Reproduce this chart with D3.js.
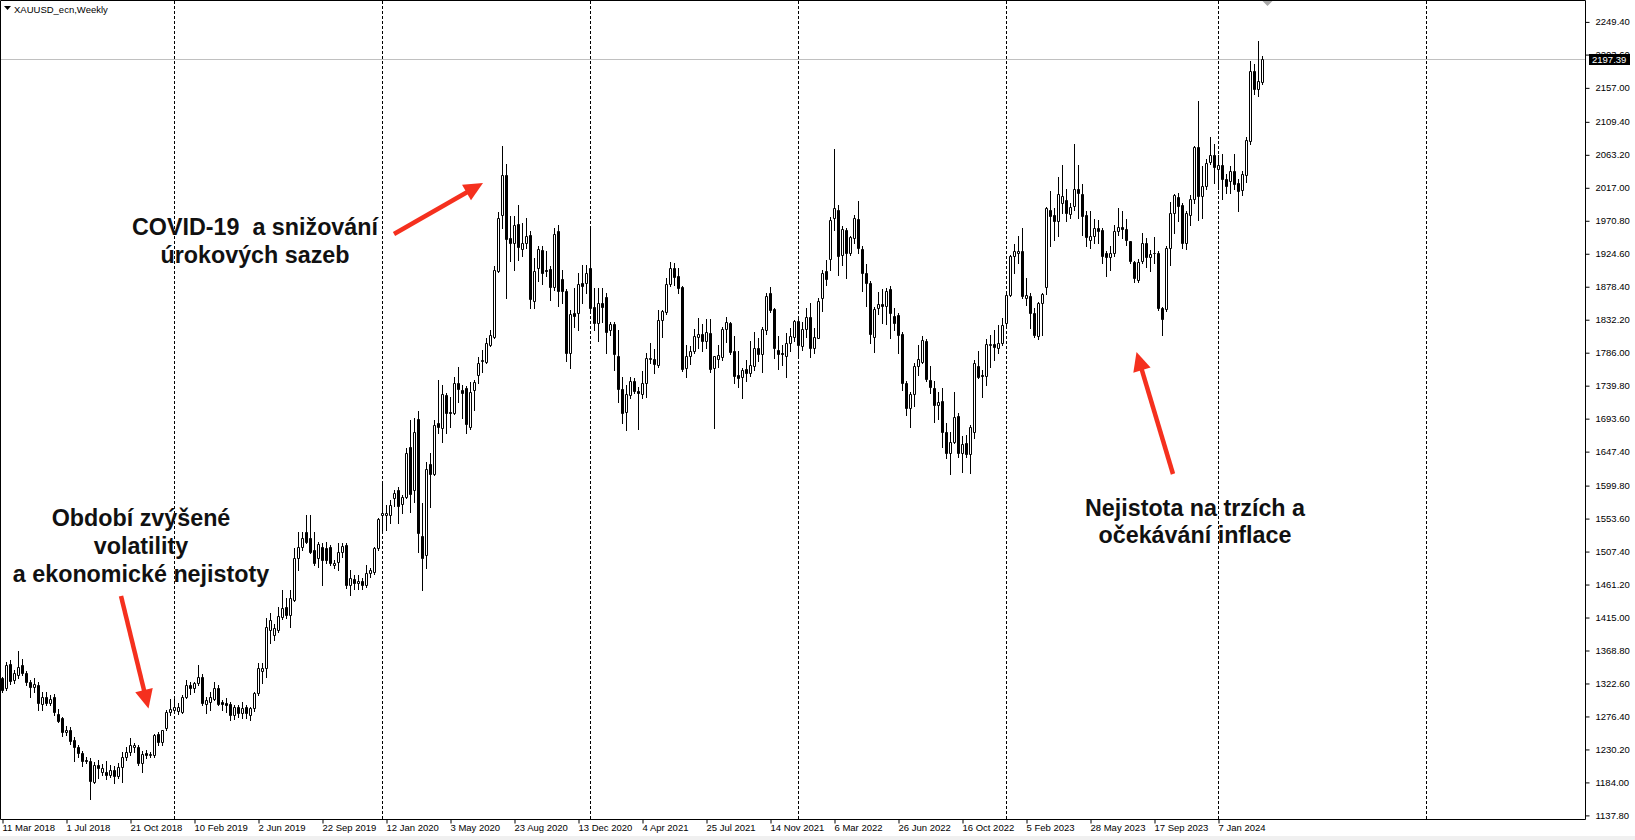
<!DOCTYPE html>
<html><head><meta charset="utf-8">
<script src="https://cdn.jsdelivr.net/npm/d3@7"></script>
<style>html,body{margin:0;padding:0;background:#fff;overflow:hidden}svg{display:block}</style>
</head><body>
<svg id="c" width="1635" height="840"></svg>
<script>
const symbolTitle = "XAUUSD_ecn,Weekly";
const dateLabels = ["11 Mar 2018","1 Jul 2018","21 Oct 2018","10 Feb 2019","2 Jun 2019","22 Sep 2019","12 Jan 2020","3 May 2020","23 Aug 2020","13 Dec 2020","4 Apr 2021","25 Jul 2021","14 Nov 2021","6 Mar 2022","26 Jun 2022","16 Oct 2022","5 Feb 2023","28 May 2023","17 Sep 2023","7 Jan 2024"];
const dateLabelBars = [0,16,32,48,64,80,96,112,128,144,160,176,192,208,224,240,256,272,288,304];
const yearSeparatorBars = [43,95,147,199,251,304,356];
const priceTickLabels = ["2249.40","2203.60","2157.00","2109.40","2063.20","2017.00","1970.80","1924.60","1878.40","1832.20","1786.00","1739.80","1693.60","1647.40","1599.80","1553.60","1507.40","1461.20","1415.00","1368.80","1322.60","1276.40","1230.20","1184.00","1137.80"];
const bidPrice = 2197.39;

const open = [1330,1316,1350,1327,1334,1349,1337,1325,1317,1320,
1294,1304,1295,1303,1280,1274,1255,1257,1243,1233,
1225,1215,1214,1185,1209,1198,1198,1195,1201,1193,
1206,1220,1227,1234,1234,1211,1225,1222,1222,1252,
1241,1260,1282,1285,1284,1283,1304,1320,1316,1323,
1332,1294,1297,1301,1316,1296,1295,1294,1278,1290,
1281,1290,1278,1288,1309,1340,1344,1398,1390,1398,
1416,1430,1418,1440,1499,1514,1535,1527,1509,1498,
1514,1513,1514,1488,1493,1507,1517,1461,1469,1463,
1466,1460,1477,1479,1513,1558,1558,1558,1582,1594,
1574,1584,1654,1594,1693,1529,1502,1630,1616,1687,
1680,1727,1703,1702,1744,1734,1736,1682,1734,1755,
1774,1773,1797,1808,1901,1979,2035,1946,1940,1966,
1931,1940,1951,1859,1904,1930,1902,1903,1878,1957,
1889,1873,1786,1841,1842,1884,1883,1905,1850,1828,
1855,1864,1818,1826,1782,1735,1703,1727,1746,1732,
1728,1744,1777,1777,1769,1832,1843,1882,1904,1893,
1878,1764,1781,1789,1808,1812,1803,1814,1764,1777,
1780,1819,1828,1789,1755,1752,1763,1757,1768,1792,
1784,1818,1869,1847,1790,1786,1781,1799,1808,1830,
1796,1819,1836,1792,1807,1862,1900,1917,1974,1986,
1923,1958,1925,1946,1973,1931,1897,1883,1808,1848,
1854,1851,1875,1837,1839,1812,1743,1708,1728,1767,
1773,1802,1748,1737,1713,1718,1675,1646,1661,1697,
1645,1659,1644,1675,1767,1755,1754,1797,1798,1793,
1800,1827,1867,1921,1925,1928,1862,1865,1841,1809,
1855,1878,1986,1979,1971,1995,2000,1980,1991,2016,
2008,1979,1944,1950,1960,1958,1925,1920,1925,1956,
1962,1959,1942,1913,1888,1915,1940,1920,1925,1925,
1848,1847,1932,1981,2004,1993,1940,1979,2001,2074,
2005,2019,2053,2063,2044,2049,2030,2026,2041,2024,
2014,2035,2082,2181,2155,2165];

const high = [1332,1353,1356,1341,1368,1357,1340,1327,1330,1324,
1311,1310,1307,1308,1287,1276,1263,1262,1247,1237,
1228,1220,1218,1212,1216,1210,1214,1208,1207,1211,
1227,1233,1246,1239,1237,1228,1230,1226,1252,1255,
1258,1285,1301,1301,1295,1306,1327,1325,1325,1348,
1336,1304,1310,1324,1320,1300,1302,1297,1292,1293,
1296,1293,1290,1311,1351,1351,1414,1421,1406,1430,
1453,1442,1453,1512,1535,1535,1558,1558,1535,1521,
1519,1521,1517,1496,1519,1520,1520,1482,1475,1474,
1470,1488,1485,1514,1554,1605,1573,1580,1594,1598,
1587,1652,1692,1694,1705,1575,1633,1645,1692,1748,
1741,1730,1724,1752,1766,1741,1739,1745,1748,1780,
1790,1806,1818,1907,1983,2075,2051,1977,1978,1993,
1967,1974,1956,1918,1935,1935,1928,1907,1960,1965,
1902,1875,1846,1876,1897,1909,1909,1960,1876,1876,
1876,1869,1829,1829,1818,1752,1741,1752,1750,1738,
1761,1785,1799,1791,1846,1846,1890,1913,1911,1904,
1880,1797,1796,1819,1834,1826,1833,1833,1782,1797,
1822,1836,1829,1809,1789,1765,1776,1802,1815,1806,
1822,1869,1878,1849,1809,1797,1813,1820,1832,1834,
1829,1848,1855,1820,1862,1902,1916,1976,2071,1993,
1963,1960,1950,1979,1999,1935,1910,1886,1850,1871,
1875,1876,1879,1848,1842,1815,1746,1731,1771,1797,
1809,1805,1767,1747,1731,1736,1688,1675,1731,1702,
1669,1671,1685,1776,1789,1762,1805,1811,1818,1825,
1834,1871,1923,1938,1949,1961,1890,1869,1848,1857,
1870,1990,2012,1988,2032,2049,2015,1995,2079,2049,
2022,1985,1985,1973,1972,1960,1928,1935,1965,1988,
1984,1973,1943,1914,1917,1953,1946,1930,1948,1928,
1850,1935,1997,2009,2010,1995,1985,2007,2076,2138,
2047,2057,2088,2079,2063,2065,2037,2048,2065,2030,
2041,2088,2195,2191,2223,2201];

const low = [1311,1313,1322,1323,1330,1334,1320,1304,1311,1286,
1285,1293,1292,1278,1269,1249,1250,1238,1214,1220,
1207,1211,1161,1183,1190,1194,1189,1191,1183,1190,
1185,1215,1222,1227,1208,1198,1218,1220,1220,1236,
1236,1258,1279,1281,1280,1281,1302,1308,1310,1320,
1292,1281,1286,1299,1292,1285,1283,1271,1273,1275,
1274,1274,1271,1284,1306,1323,1332,1380,1384,1395,
1413,1414,1402,1438,1481,1510,1519,1505,1488,1486,
1460,1491,1488,1485,1481,1500,1456,1447,1455,1455,
1455,1458,1472,1476,1510,1538,1538,1547,1571,1548,
1561,1582,1563,1577,1507,1453,1484,1570,1614,1673,
1661,1673,1682,1700,1717,1694,1673,1679,1706,1743,
1759,1771,1795,1806,1899,1960,1862,1914,1902,1916,
1921,1932,1848,1848,1886,1882,1893,1860,1874,1851,
1855,1775,1765,1822,1818,1855,1869,1841,1818,1803,
1829,1785,1811,1762,1717,1688,1678,1722,1729,1679,
1722,1724,1771,1757,1766,1808,1840,1879,1881,1870,
1761,1752,1770,1785,1792,1789,1792,1759,1681,1766,
1776,1801,1784,1744,1738,1722,1747,1753,1762,1774,
1759,1812,1843,1779,1763,1769,1752,1789,1802,1783,
1790,1808,1780,1785,1806,1845,1881,1902,1958,1895,
1909,1890,1923,1939,1926,1872,1851,1799,1787,1840,
1827,1826,1806,1818,1785,1734,1699,1682,1711,1755,
1771,1747,1729,1689,1693,1654,1638,1616,1659,1640,
1619,1640,1618,1666,1750,1724,1741,1766,1776,1785,
1797,1820,1865,1897,1911,1862,1853,1820,1808,1805,
1811,1868,1935,1944,1949,1982,1970,1974,1986,1974,
1951,1935,1932,1939,1939,1911,1893,1902,1921,1951,
1946,1937,1911,1885,1885,1911,1906,1901,1911,1846,
1811,1845,1909,1954,1970,1932,1931,1965,1995,1972,
1975,2015,2050,2024,2015,2002,2010,2010,2015,1984,
2007,2025,2079,2149,2146,2163];

const close = [1314,1348,1326,1337,1346,1337,1325,1317,1322,1295,
1304,1295,1301,1282,1270,1254,1258,1242,1233,1225,
1214,1214,1186,1208,1204,1204,1195,1202,1193,1206,
1220,1227,1236,1236,1211,1224,1223,1224,1250,1240,
1257,1283,1287,1290,1289,1304,1320,1316,1323,1331,
1295,1300,1303,1316,1294,1294,1293,1278,1289,1281,
1288,1281,1288,1309,1344,1344,1402,1411,1401,1417,
1428,1418,1442,1498,1514,1527,1521,1507,1491,1518,
1496,1495,1491,1491,1507,1515,1460,1470,1463,1466,
1460,1478,1481,1512,1553,1562,1561,1573,1589,1571,
1584,1645,1588,1675,1533,1498,1623,1616,1685,1682,
1728,1701,1701,1743,1735,1729,1686,1731,1745,1771,
1776,1799,1811,1902,1975,2035,1945,1940,1965,1934,
1940,1950,1861,1900,1931,1898,1900,1878,1952,1872,
1872,1786,1840,1838,1882,1880,1898,1849,1828,1856,
1850,1815,1826,1784,1735,1702,1728,1746,1733,1730,
1744,1778,1778,1770,1832,1844,1882,1904,1892,1876,
1763,1782,1789,1809,1812,1803,1815,1763,1781,1783,
1819,1829,1787,1753,1751,1762,1757,1769,1793,1784,
1819,1865,1846,1792,1784,1784,1799,1809,1830,1797,
1819,1836,1792,1808,1859,1897,1889,1972,1988,1921,
1959,1925,1948,1974,1932,1897,1884,1812,1847,1854,
1851,1872,1841,1827,1811,1743,1708,1728,1768,1777,
1804,1749,1738,1713,1717,1675,1645,1661,1696,1645,
1658,1644,1682,1772,1752,1754,1798,1798,1794,1800,
1825,1867,1921,1928,1928,1866,1867,1842,1811,1856,
1868,1988,1977,1970,2008,2005,1982,1990,2016,2010,
1978,1948,1949,1960,1957,1921,1920,1925,1956,1962,
1959,1944,1914,1890,1913,1940,1920,1924,1926,1848,
1833,1933,1981,2007,1992,1940,1981,2002,2074,2005,
2020,2052,2063,2046,2049,2030,2019,2041,2023,2013,
2036,2084,2180,2156,2166,2197];

const noteVolatility = ["Období zvýšené","volatility","a ekonomické nejistoty"];
const noteCovid = ["COVID-19  a snižování","úrokových sazeb"];
const noteInflation = ["Nejistota na trzích a","očekávání inflace"];

// ---------- layout ----------
const W = 1635, H = 840;
const plotRight = 1585.5, plotBottom = 819.5;
const svg = d3.select("#c");
const x = d3.scaleLinear().domain([0, 1]).range([2.5, 6.5]);
const y = d3.scaleLinear().domain([1137.8, 2249.4]).range([815.4, 21.9]);
const snap = v => Math.round(v) + 0.5;
const axisFont = "'Liberation Sans', Arial, sans-serif";

svg.append("rect").attr("width", W).attr("height", H).attr("fill", "#fff");
svg.append("rect").attr("x", 0).attr("y", 836).attr("width", W).attr("height", 4).attr("fill", "#f0f0f0");

// year separators
svg.append("g").selectAll("line").data(yearSeparatorBars).join("line")
  .attr("x1", d => snap(x(d) - 0.5)).attr("x2", d => snap(x(d) - 0.5))
  .attr("y1", 1).attr("y2", plotBottom)
  .attr("stroke", "#000").attr("stroke-width", 1).attr("stroke-dasharray", "3,2");

// bid line
const yb = snap(y(bidPrice));
svg.append("line").attr("x1", 1).attr("x2", plotRight).attr("y1", yb).attr("y2", yb)
  .attr("stroke", "#c0c0c0").attr("stroke-width", 1);

// candles
const idx = d3.range(close.length);
const gC = svg.append("g");
gC.selectAll("line").data(idx).join("line")
  .attr("x1", i => snap(x(i) - 0.5)).attr("x2", i => snap(x(i) - 0.5))
  .attr("y1", i => Math.round(y(high[i]))).attr("y2", i => Math.round(y(low[i])) + 1)
  .attr("stroke", "#000").attr("stroke-width", 1);
gC.selectAll("path").data(idx).join("path")
  .attr("d", i => {
    const cx = snap(x(i) - 0.5);
    const t = snap(y(Math.max(open[i], close[i])));
    const b = snap(y(Math.min(open[i], close[i])));
    return `M${cx - 1},${t}H${cx + 1}V${b}H${cx - 1}Z`;
  })
  .attr("fill", i => close[i] >= open[i] ? "#fff" : "#000")
  .attr("stroke", "#000").attr("stroke-width", 1);

// frame
svg.append("path")
  .attr("d", `M0.5,${plotBottom}V0.5H${plotRight}V${plotBottom}H0.5`)
  .attr("fill", "none").attr("stroke", "#000").attr("stroke-width", 1);

// price axis
const pa = svg.append("g").attr("transform", `translate(${plotRight},0)`)
  .call(d3.axisRight(y).tickValues(priceTickLabels.map(Number))
    .tickFormat((d, i) => priceTickLabels[i]).tickSize(4).tickPadding(6));
pa.select(".domain").remove();
pa.selectAll("text").attr("font-family", axisFont).attr("font-size", 9.5).attr("fill", "#000");
pa.selectAll("line").attr("stroke", "#000");

// bid label
svg.append("rect").attr("x", 1589).attr("y", yb - 5.5).attr("width", 41).attr("height", 11).attr("fill", "#000");
svg.append("text").attr("x", 1592).attr("y", yb).attr("dy", "0.35em")
  .attr("font-family", axisFont).attr("font-size", 9.5).attr("fill", "#fff").text(bidPrice.toFixed(2));

// time axis
const xt = d3.scaleLinear().domain([0, 1]).range([2, 6]);
const ta = svg.append("g").attr("transform", `translate(0,${plotBottom})`)
  .call(d3.axisBottom(xt).tickValues(dateLabelBars).tickFormat((d, i) => dateLabels[i]).tickSize(4).tickPadding(1));
ta.select(".domain").remove();
ta.selectAll("text").attr("font-family", axisFont).attr("font-size", 9.5).attr("fill", "#000")
  .attr("text-anchor", "start").attr("dx", "0");
ta.selectAll("line").attr("stroke", "#000").attr("transform", "translate(0.5,0)");

// title
svg.append("path").attr("d", "M4,6H11L7.5,10Z").attr("fill", "#000");
svg.append("text").attr("x", 14).attr("y", 13).attr("font-family", axisFont).attr("font-size", 9.5)
  .attr("fill", "#000").text(symbolTitle);

// chart shift marker
const sx = x(close.length - 1) + 5;
svg.append("path").attr("d", `M${sx - 5},1H${sx + 5}L${sx},6Z`).attr("fill", "#a8a8a8");

// annotations
const noteFont = "'Liberation Sans', Arial, Helvetica, sans-serif";
function note(lines, cx, y0, lh) {
  svg.append("g").selectAll("text").data(lines).join("text")
    .attr("x", cx).attr("y", (d, i) => y0 + i * lh)
    .attr("text-anchor", "middle").attr("font-family", noteFont).attr("font-weight", "bold")
    .attr("font-size", 23.3).attr("fill", "#111").style("white-space", "pre").text(d => d);
}
note(noteVolatility, 141, 526, 28);
note(noteCovid, 255, 235, 28);
note(noteInflation, 1195, 516, 27);

const red = "#f5301e";
function arrow(x1, y1, x2, y2) {
  const dx = x2 - x1, dy = y2 - y1, L = Math.hypot(dx, dy);
  const ux = dx / L, uy = dy / L, hl = 19, hw = 9;
  const bx = x2 - ux * hl, by = y2 - uy * hl;
  svg.append("line").attr("x1", x1).attr("y1", y1).attr("x2", bx + ux * 2).attr("y2", by + uy * 2)
    .attr("stroke", red).attr("stroke-width", 4.5);
  svg.append("path").attr("d", `M${x2},${y2}L${bx - uy * hw},${by + ux * hw}L${bx + uy * hw},${by - ux * hw}Z`)
    .attr("fill", red);
}
arrow(121, 596, 148.5, 708.5);
arrow(394, 234, 483, 183);
arrow(1173, 474, 1136.5, 352);
</script>
</body></html>
